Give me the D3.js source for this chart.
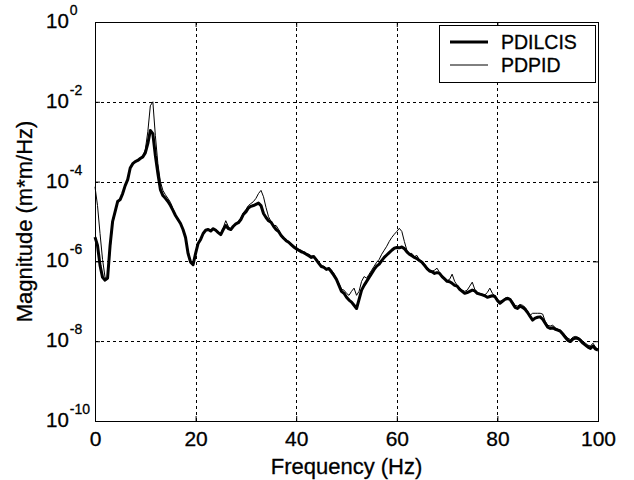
<!DOCTYPE html>
<html>
<head>
<meta charset="utf-8">
<script src="https://cdn.jsdelivr.net/npm/d3@7"></script>
<style>
  html, body { margin: 0; padding: 0; background: #fff; }
  svg { display: block; }
  text { font-family: "Liberation Sans", Arial, sans-serif; fill: #000; stroke: #000; stroke-width: 0.3px; }
</style>
</head>
<body>
<svg id="chart" width="634" height="480"></svg>
<script>
// Frequency (Hz)
const freq = [0,0.5,1,1.5,2,2.5,3,3.5,4,4.5,5,5.5,6,6.5,7,7.5,8,8.5,9,9.5,
10,10.5,11,11.5,12,12.5,13,13.5,14,14.5,15,15.5,16,16.5,17,17.5,18,18.5,19,19.5,
20,20.5,21,21.5,22,22.5,23,23.5,24,24.5,25,25.5,26,26.5,27,27.5,28,28.5,29,29.5,
30,30.5,31,31.5,32,32.5,33,33.5,34,34.5,35,35.5,36,36.5,37,37.5,38,38.5,39,39.5,
40,40.5,41,41.5,42,42.5,43,43.5,44,44.5,45,45.5,46,46.5,47,47.5,48,48.5,49,49.5,
50,50.5,51,51.5,52,52.5,53,53.5,54,54.5,55,55.5,56,56.5,57,57.5,58,58.5,59,59.5,
60,60.5,61,61.5,62,62.5,63,63.5,64,64.5,65,65.5,66,66.5,67,67.5,68,68.5,69,69.5,
70,70.5,71,71.5,72,72.5,73,73.5,74,74.5,75,75.5,76,76.5,77,77.5,78,78.5,79,79.5,
80,80.5,81,81.5,82,82.5,83,83.5,84,84.5,85,85.5,86,86.5,87,87.5,88,88.5,89,89.5,
90,90.5,91,91.5,92,92.5,93,93.5,94,94.5,95,95.5,96,96.5,97,97.5,98,98.5,99,99.5,100];

// log10 of magnitude (m*m/Hz)
const pdilcisLog = [-5.39,-5.6,-6.1,-6.4,-6.47,-6.42,-5.6,-5.0,-4.75,-4.5,-4.45,-4.3,-4.1,-3.95,-3.66,-3.55,-3.5,-3.47,-3.42,-3.38,
-3.28,-3.05,-2.72,-2.8,-3.35,-3.8,-4.2,-4.35,-4.42,-4.5,-4.6,-4.72,-4.85,-4.95,-5.05,-5.2,-5.4,-5.8,-6.02,-6.08,
-5.8,-5.55,-5.45,-5.3,-5.22,-5.2,-5.24,-5.18,-5.22,-5.28,-5.33,-5.2,-5.1,-5.18,-5.2,-5.12,-5.06,-5.03,-4.95,-4.82,
-4.76,-4.66,-4.62,-4.6,-4.57,-4.54,-4.6,-4.8,-4.9,-4.98,-5.02,-5.12,-5.2,-5.25,-5.35,-5.42,-5.48,-5.52,-5.58,-5.64,
-5.68,-5.72,-5.76,-5.78,-5.82,-5.86,-5.9,-5.88,-5.96,-6.05,-6.13,-6.15,-6.2,-6.18,-6.26,-6.35,-6.45,-6.6,-6.75,-6.8,
-6.9,-6.97,-7.02,-7.1,-7.18,-6.95,-6.72,-6.6,-6.5,-6.4,-6.3,-6.2,-6.12,-6.07,-5.98,-5.9,-5.84,-5.78,-5.72,-5.67,
-5.65,-5.66,-5.64,-5.68,-5.76,-5.82,-5.86,-5.9,-5.93,-5.98,-6.02,-6.1,-6.18,-6.24,-6.26,-6.3,-6.28,-6.3,-6.38,-6.44,
-6.5,-6.51,-6.55,-6.6,-6.62,-6.7,-6.75,-6.8,-6.78,-6.75,-6.72,-6.74,-6.8,-6.82,-6.84,-6.86,-6.9,-6.88,-6.86,-6.88,
-6.98,-7.05,-7.0,-6.95,-6.93,-6.95,-7.05,-7.15,-7.18,-7.12,-7.15,-7.2,-7.28,-7.38,-7.47,-7.42,-7.4,-7.39,-7.45,-7.55,
-7.65,-7.68,-7.66,-7.7,-7.72,-7.75,-7.82,-7.9,-7.98,-8.01,-7.95,-7.92,-7.93,-7.98,-8.05,-8.1,-8.15,-8.18,-8.12,-8.2,-8.22];

const pdpidLog = [-4.13,-4.6,-5.3,-5.95,-6.4,-6.45,-5.7,-5.05,-4.78,-4.52,-4.43,-4.32,-4.1,-3.93,-3.65,-3.55,-3.48,-3.46,-3.4,-3.36,
-3.2,-2.75,-2.1,-2.0,-2.85,-3.55,-4.0,-4.22,-4.33,-4.42,-4.52,-4.68,-4.83,-4.95,-5.04,-5.2,-5.4,-5.75,-6.0,-6.05,
-5.78,-5.55,-5.42,-5.3,-5.2,-5.22,-5.22,-5.2,-5.2,-5.26,-5.3,-5.15,-4.98,-5.12,-5.2,-5.12,-5.05,-5.0,-4.92,-4.78,
-4.7,-4.6,-4.55,-4.5,-4.42,-4.3,-4.22,-4.38,-4.65,-4.88,-5.0,-5.1,-5.1,-5.2,-5.33,-5.4,-5.45,-5.5,-5.56,-5.6,
-5.66,-5.7,-5.72,-5.76,-5.8,-5.82,-5.86,-5.86,-5.94,-6.02,-6.1,-6.12,-6.18,-6.15,-6.22,-6.3,-6.45,-6.55,-6.7,-6.72,
-6.8,-6.85,-6.75,-6.67,-6.85,-6.75,-6.5,-6.38,-6.42,-6.32,-6.22,-6.12,-6.02,-5.95,-5.82,-5.72,-5.62,-5.5,-5.4,-5.32,
-5.25,-5.17,-5.25,-5.5,-5.72,-5.8,-5.8,-5.88,-5.85,-5.96,-6.0,-6.06,-6.14,-6.2,-6.25,-6.22,-6.17,-6.28,-6.36,-6.42,
-6.48,-6.45,-6.32,-6.5,-6.6,-6.66,-6.72,-6.75,-6.72,-6.62,-6.52,-6.7,-6.78,-6.8,-6.82,-6.84,-6.78,-6.67,-6.8,-6.86,
-6.95,-7.0,-6.98,-6.92,-6.9,-6.93,-7.0,-7.1,-7.12,-7.08,-7.1,-7.15,-7.25,-7.35,-7.3,-7.3,-7.3,-7.3,-7.32,-7.5,
-7.6,-7.62,-7.6,-7.66,-7.7,-7.72,-7.78,-7.86,-7.92,-7.96,-7.9,-7.88,-7.9,-7.94,-8.0,-8.05,-8.1,-8.12,-8.05,-8.15,-8.2];

const xTicks = [0, 20, 40, 60, 80, 100];
const yTickExps = [0, -2, -4, -6, -8, -10];
const seriesNames = ["PDILCIS", "PDPID"];

const L = 95, R = 598, T = 22, B = 421;
const svg = d3.select("#chart");
svg.append("rect").attr("width", 634).attr("height", 480).attr("fill", "#fff");

const x = d3.scaleLinear().domain([0, 100]).range([L, R]);
const y = d3.scaleLog().domain([1e-10, 1]).range([B, T]);

// grid
const grid = svg.append("g").attr("stroke", "#000").attr("stroke-width", 1)
  .attr("stroke-dasharray", "3,3").attr("shape-rendering", "crispEdges");
xTicks.slice(1, -1).forEach(v => {
  grid.append("line").attr("x1", Math.round(x(v)) + 0.5).attr("x2", Math.round(x(v)) + 0.5)
    .attr("y1", T).attr("y2", B);
});
yTickExps.slice(1, -1).forEach(e => {
  const yy = Math.round(y(Math.pow(10, e))) + 0.5;
  grid.append("line").attr("x1", L).attr("x2", R).attr("y1", yy).attr("y2", yy);
});

// lines
const pts = (arr) => freq.map((f, i) => [f, Math.pow(10, arr[i])]);
const line = d3.line().x(d => x(d[0])).y(d => y(d[1]));
svg.append("path").datum(pts(pdilcisLog)).attr("d", line)
  .attr("fill", "none").attr("stroke", "#000").attr("stroke-width", 3).attr("stroke-linejoin", "round");
svg.append("path").datum(pts(pdpidLog)).attr("d", line)
  .attr("fill", "none").attr("stroke", "#000").attr("stroke-width", 1);

// axes box & ticks
const bottomAxis = d3.axisBottom(x).tickValues(xTicks).tickSize(-5).tickPadding(10).tickFormat(d3.format("d"));
const gx = svg.append("g").attr("transform", `translate(0,${B})`).call(bottomAxis);
gx.select(".domain").remove();
gx.selectAll("text").attr("font-size", 21).attr("font-family", "Liberation Sans, Arial, sans-serif");
const topAxis = d3.axisTop(x).tickValues(xTicks).tickSize(-5).tickFormat("");
svg.append("g").attr("transform", `translate(0,${T})`).call(topAxis).select(".domain").remove();
const leftAxis = d3.axisLeft(y).tickValues(yTickExps.map(e => Math.pow(10, e))).tickSize(-5).tickFormat("");
svg.append("g").attr("transform", `translate(${L},0)`).call(leftAxis).select(".domain").remove();
const rightAxis = d3.axisRight(y).tickValues(yTickExps.map(e => Math.pow(10, e))).tickSize(-5).tickFormat("");
svg.append("g").attr("transform", `translate(${R},0)`).call(rightAxis).select(".domain").remove();

svg.append("rect").attr("x", L + 0.5).attr("y", T + 0.5).attr("width", R - L).attr("height", B - T)
  .attr("fill", "none").attr("stroke", "#000").attr("stroke-width", 1).attr("shape-rendering", "crispEdges");

// y tick labels (10^e)
yTickExps.forEach(e => {
  const yy = y(Math.pow(10, e));
  const t = svg.append("text").attr("x", 46).attr("y", yy + 6).attr("font-size", 20.5);
  t.append("tspan").text("10");
  t.append("tspan").attr("dx", 1).attr("dy", -13).attr("font-size", 14).text(e === 0 ? "0" : "-" + Math.abs(e));
});

// axis labels
svg.append("text").attr("x", (L + R) / 2).attr("y", 474).attr("text-anchor", "middle")
  .attr("font-size", 22).text("Frequency (Hz)");
svg.append("text").attr("transform", `translate(32,${(T + B) / 2}) rotate(-90)`).attr("text-anchor", "middle")
  .attr("font-size", 22).text("Magnitude (m*m/Hz)");

// legend
const lg = svg.append("g");
lg.append("rect").attr("x", 439.5).attr("y", 25.5).attr("width", 156).attr("height", 57)
  .attr("fill", "#fff").attr("stroke", "#000").attr("stroke-width", 1).attr("shape-rendering", "crispEdges");
[[3, 42], [1, 65]].forEach((s, i) => {
  lg.append("line").attr("x1", 450).attr("x2", 488).attr("y1", s[1]).attr("y2", s[1])
    .attr("stroke", "#000").attr("stroke-width", s[0]);
  lg.append("text").attr("x", 501).attr("y", s[1] + 7).attr("font-size", 19.5).text(seriesNames[i]);
});
</script>
</body>
</html>
